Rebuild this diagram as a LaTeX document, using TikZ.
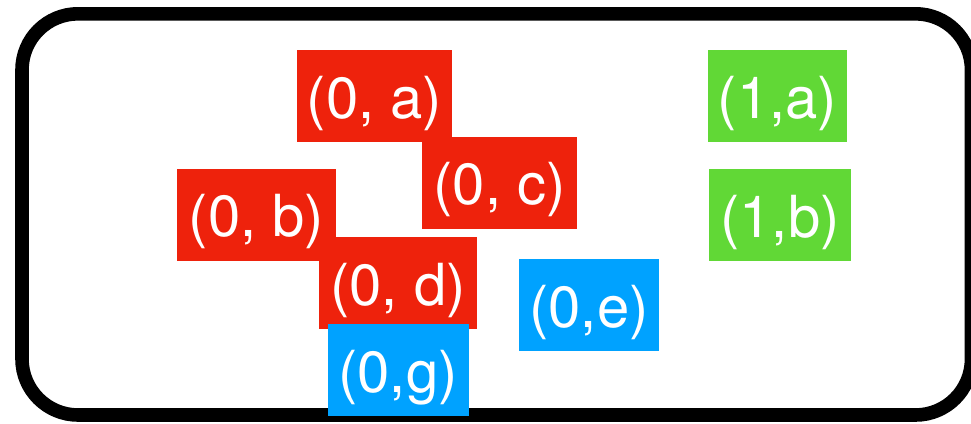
\documentclass[tikz,border=0pt]{standalone}
\usepackage{fontspec}
\setmainfont{TeX Gyre Heros}
\definecolor{kred}{HTML}{EE220C}
\definecolor{kblue}{HTML}{00A2FF}
\definecolor{kgreen}{HTML}{61D836}
\tikzset{
  tag/.style={rectangle, inner sep=0pt, text=white, text height=68pt, text depth=24pt,
    font=\fontsize{58}{60}\selectfont},
  redtag/.style={tag, fill=kred},
  bluetag/.style={tag, fill=kblue},
  greentag/.style={tag, fill=kgreen},
  frame/.style={draw=black, line width=13.6pt, rounded corners=56pt}
}
\begin{document}
\begin{tikzpicture}[x=1pt,y=-1pt]
\useasboundingbox (0,0) rectangle (971,423);
\clip (0,0) rectangle (971,423);
\draw[frame] (22,13.8) rectangle (971.5,415);
\node[redtag, minimum width=155pt, minimum height=92pt] (a0) at (374.5,96) {(0, a)};
\node[redtag, minimum width=155pt, minimum height=91pt] (c0) at (499.5,182.5) {(0, c)};
\node[redtag, minimum width=158pt, minimum height=92pt] (d0) at (398,283) {(0, d)};
\node[redtag, minimum width=159pt, minimum height=91pt] (b0) at (256.5,214.5) {(0, b)};
\node[bluetag, minimum width=141pt, minimum height=92pt] (g0) at (398,370) {(0,g)};
\node[bluetag, minimum width=140pt, minimum height=92pt] (e0) at (589,305) {(0,e)};
\node[greentag, minimum width=139pt, minimum height=92pt] (a1) at (777.5,96) {(1,a)};
\node[greentag, minimum width=142pt, minimum height=92pt] (b1) at (780,215) {(1,b)};
\end{tikzpicture}
\end{document}
